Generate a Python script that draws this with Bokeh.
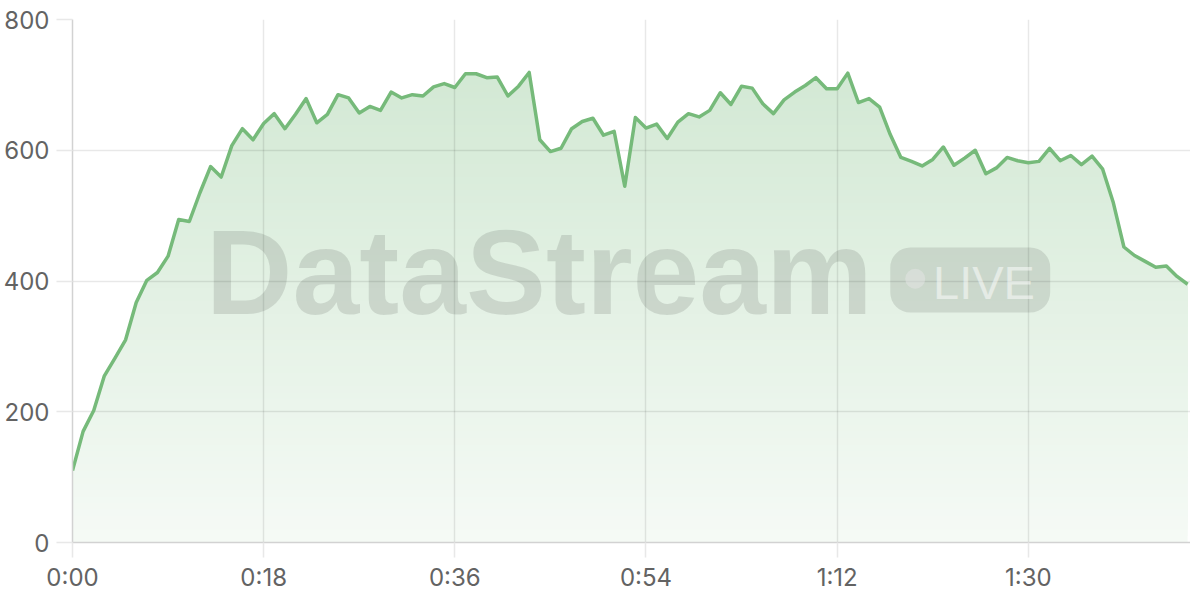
import numpy as np
from bokeh.plotting import figure
from bokeh.models import Range1d, FixedTicker, Label, BoxAnnotation
from bokeh.embed import file_html
from bokeh.resources import INLINE

# ---- data ----
values = [110, 170, 202, 255, 282, 310, 367, 401, 413, 438, 494, 491, 535, 575, 559, 607,
          633, 616, 641, 656, 633, 655, 679, 642, 655, 685, 680, 657, 667, 661, 689, 680,
          685, 683, 697, 702, 696,
          717, 717, 711, 712, 683, 698, 719, 616, 598, 603, 633, 644, 649, 623, 629, 545, 650,
          634, 640, 618, 643, 656, 651, 661, 688, 670, 698, 695, 671, 656, 677, 689, 699, 711, 694,
          694, 718, 673, 679, 666, 624, 589, 583, 576, 586, 605, 577, 588, 600, 564, 573, 589, 584,
          581, 583, 603, 584, 592, 578, 591, 571, 520, 452, 439, 430, 421, 423, 407, 395]
seconds = list(range(len(values)))
x_ticks = [0, 18, 36, 54, 72, 90]
x_tick_labels = ["0:00", "0:18", "0:36", "0:54", "1:12", "1:30"]
y_ticks = [0, 200, 400, 600, 800]
watermark_text = "DataStream"
badge_text = "LIVE"

LINE = "#76ba7a"
LINE_RGB = (116, 185, 121)
AXIS = "#d2d2d2"
TICK = "#e8e8e8"
LABEL = "#636363"
FONT = "Inter"

p = figure(frame_width=1118, frame_height=523, output_backend="svg", toolbar_location=None,
           x_range=Range1d(0, 105.27), y_range=Range1d(0, 800),
           min_border_left=72, min_border_right=0, min_border_top=19, min_border_bottom=40)
p.outline_line_color = None
p.background_fill_color = "white"
p.border_fill_color = "white"

x = np.array(seconds, dtype=float)
v = np.array(values, dtype=float)


def clipped_above(xs, ys, lvl):
    """Polyline of max(curve, lvl) with exact crossing points inserted."""
    ox, oy = [xs[0]], [max(ys[0], lvl)]
    for i in range(len(xs) - 1):
        y0, y1 = ys[i], ys[i + 1]
        if (y0 - lvl) * (y1 - lvl) < 0:
            xc = xs[i] + (lvl - y0) / (y1 - y0) * (xs[i + 1] - xs[i])
            ox.append(xc)
            oy.append(lvl)
        ox.append(xs[i + 1])
        oy.append(max(y1, lvl))
    return np.array(ox), np.array(oy)


# vertical gradient fill: opaque bands, each covering from its level up to the curve
top = v.max()
N = 72
a_bottom, a_top = 0.07, 0.32
for k in range(N):
    lvl = top * k / N
    frac = (k + 0.5) / N
    a = a_bottom + (a_top - a_bottom) * frac
    col = "#%02x%02x%02x" % tuple(int(round(255 - a * (255 - c))) for c in LINE_RGB)
    bx, by = clipped_above(x, v, lvl)
    p.varea(x=bx, y1=np.full_like(by, lvl), y2=by, fill_color=col, level="image")

p.line(x, v, line_color=LINE, line_width=3.5, line_join="round")

# watermark
p.add_layout(Label(x=12.55, y=414, text=watermark_text, text_font="Liberation Sans",
                   text_font_style="bold", text_font_size="120px", text_color="black",
                   text_alpha=0.11, text_align="left", text_baseline="alphabetic"))
p.add_layout(BoxAnnotation(left=77.0, right=92.06, bottom=351.8, top=451.2,
                           fill_color="black", fill_alpha=0.10, line_alpha=0,
                           border_radius=20))
p.scatter([79.35], [403.4], size=20, fill_color="white", fill_alpha=0.5, line_alpha=0)
p.add_layout(Label(x=81.03, y=398, text=badge_text, text_font="Liberation Sans",
                   text_font_size="47px", text_color="white", text_alpha=0.5,
                   text_align="left", text_baseline="alphabetic"))

# axes
p.xaxis.ticker = FixedTicker(ticks=x_ticks)
p.xaxis.major_label_overrides = {t: l for t, l in zip(x_ticks, x_tick_labels)}
p.yaxis.ticker = FixedTicker(ticks=y_ticks)
p.xgrid.ticker = FixedTicker(ticks=x_ticks)
p.ygrid.ticker = FixedTicker(ticks=y_ticks)
for g in (p.xgrid, p.ygrid):
    g.grid_line_color = "black"
    g.grid_line_alpha = 0.09
    g.grid_line_width = 1.5

for ax in (p.xaxis, p.yaxis):
    ax.axis_line_color = AXIS
    ax.axis_line_width = 1.5
    ax.major_tick_line_color = TICK
    ax.major_tick_line_width = 1.5
    ax.major_tick_in = 0
    ax.minor_tick_line_color = None
    ax.major_label_text_font = FONT
    ax.major_label_text_font_size = "24px"
    ax.major_label_text_color = LABEL
p.xaxis.major_tick_out = 15
p.yaxis.major_tick_out = 16
p.xaxis.major_label_standoff = 5
p.yaxis.major_label_standoff = 7

open("out.html", "w").write(file_html(p, INLINE))
